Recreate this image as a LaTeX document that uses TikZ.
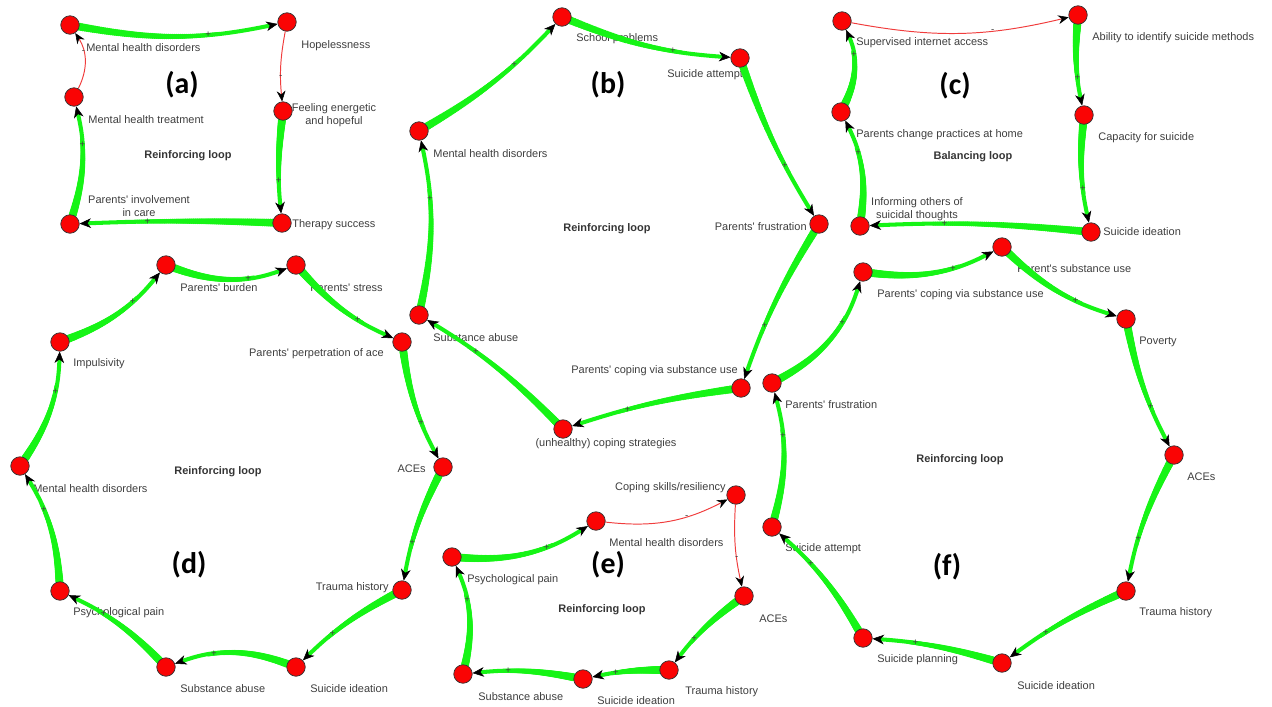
\documentclass[tikz,border=0pt]{standalone}
\usepackage{fontspec}
\setmainfont{Liberation Sans}
\newfontfamily\tagfont{Carlito}
\usepackage{tikz}
\usetikzlibrary{arrows.meta, backgrounds, decorations.markings}
\definecolor{GR}{RGB}{22,244,22}
\definecolor{NR}{RGB}{250,4,4}
\definecolor{RL}{RGB}{240,60,60}
\definecolor{DG}{RGB}{62,62,62}
\newcommand{\apos}{\textquotesingle}

\begin{document}
\begin{tikzpicture}[x=0.02cm, y=-0.02cm,
  vtx/.style={circle, draw=black!80, fill=NR, line width=0.4pt,
              minimum size=0.37cm, inner sep=0pt},
  lbl/.style={font=\fontsize{6.25}{7.2}\selectfont, text=DG,
              inner sep=0pt, anchor=west},
  lblr/.style={lbl, anchor=east},
  lblc/.style={lbl, anchor=center, align=center},
  loopname/.style={font=\fontsize{6.25}{7.2}\selectfont\bfseries, text=DG!85!black},
  tag/.style={font=\tagfont\fontsize{17}{20}\selectfont\bfseries},
  % thick at the cause, thin at the effect
  plink/.style={draw=GR, line width=2.3pt,
                -{Stealth[length=6.5pt, width=5.5pt, inset=2pt, line width=0.3pt, color=black]},
                postaction={decorate, decoration={markings,
                  mark=between positions 0 and 0.7 step 0.01 with
                  {\fill[GR, arrows=-] (0,0) circle
                    [radius={2.3pt-1.15pt*\pgfkeysvalueof{/pgf/decoration/mark info/sequence number}/70}];}}}},
  nlink/.style={draw=RL, line width=0.55pt,
                -{Stealth[length=6pt, width=5pt, inset=2pt, line width=0.3pt, color=black]}},
  sgn/.style={font=\fontsize{5.5}{5.5}\selectfont, text=black!75, inner sep=0pt}
]
\useasboundingbox (0,0) rectangle (1272,707);

% Variables (a)-(f)
\foreach \n/\x/\y in {a1/70/25, a2/287/22, a3/283/111, a4/282/223, a5/70/224, a6/74/97,
  b1/562/17, b2/740/58, b3/819/224, b4/741/388, b5/563/429, b6/419/315, b7/419/131,
  c1/842/21, c2/1078/15, c3/1084/115, c4/1091/232, c5/860/226, c6/841/112,
  d1/166/265, d2/296/265, d3/402/342, d4/443/467, d5/402/590,
  d6/296/667, d7/166/667, d8/60/591, d9/20/466, d10/60/342,
  e1/452/557, e2/596/521, e3/736/495, e4/744/596, e5/669/670, e6/583/679, e7/463/674,
  f1/863/272, f2/1002/247, f3/1126/319, f4/1174/455, f5/1126/591,
  f6/1002/663, f7/863/638, f8/772/527, f9/772/383}
  { \node[vtx] (\n) at (\x,\y) {}; }

\begin{scope}[on background layer]
% Variable names, left aligned
\foreach \n/\x/\y/\t in {
  a1t/86/48/{Mental health disorders}, a2t/301/46/{Hopelessness},
  a4t/292/225/{Therapy success}, a6t/88/120/{Mental health treatment},
  b1t/576/39/{School problems}, b2t/667/75/{Suicide attempt},
  b6t/433/338/{Substance abuse}, b7t/433/154/{Mental health disorders},
  c1t/856/43/{Supervised internet access}, c2t/1092/38/{Ability to identify suicide methods},
  c3t/1098/138/{Capacity for suicide}, c4t/1103/232/{Suicide ideation},
  c6t/856/135/{Parents change practices at home},
  d1t/180/288/{Parents\apos{} burden}, d2t/310/288/{Parents\apos{} stress},
  d6t/310/689/{Suicide ideation}, d7t/180/689/{Substance abuse},
  d8t/73/613/{Psychological pain}, d9t/33/489/{Mental health disorders},
  d10t/73/364/{Impulsivity},
  e1t/467/580/{Psychological pain}, e2t/609/543/{Mental health disorders},
  e4t/759/619/{ACEs}, e5t/685/692/{Trauma history},
  e6t/597/701/{Suicide ideation}, e7t/478/697/{Substance abuse},
  f1t/877/295/{Parents\apos{} coping via substance use}, f2t/1017/269/{Parent\apos{}s substance use},
  f3t/1139/342/{Poverty}, f4t/1187/477/{ACEs}, f5t/1139/613/{Trauma history},
  f6t/1017/686/{Suicide ideation}, f7t/877/660/{Suicide planning},
  f8t/785/549/{Suicide attempt}, f9t/785/405/{Parents\apos{} frustration}}
  { \node[lbl] (\n) at (\x,\y) {\t}; }
% right aligned
\foreach \n/\x/\y/\t in {
  b3t/807/227/{Parents\apos{} frustration}, b4t/738/371/{Parents\apos{} coping via substance use},
  d3t/384/354/{Parents\apos{} perpetration of ace}, d4t/426/469/{ACEs},
  d5t/389/588/{Trauma history}, e3t/726/488/{Coping skills/resiliency}}
  { \node[lblr] (\n) at (\x,\y) {\t}; }
% centred
\node[lblc] (a3t) at (334,115) {Feeling energetic\\and hopeful};
\node[lblc] (a5t) at (139,206) {Parents\apos{} involvement\\in care};
\node[lblc] (b5t) at (606,444) {(unhealthy) coping strategies};
\node[lblc] (c5t) at (917,209) {Informing others of\\suicidal thoughts};

% Panel tags and loop types
\foreach \n/\x/\y/\t in {atag/182/85/a, btag/608/85/b, ctag/955/86/c,
  dtag/189/565/d, etag/608/565/e, ftag/947/567/f}
  { \node[tag] (\n) at (\x,\y) {(\t)}; }
\foreach \n/\x/\y/\t in {aloop/188/156/{Reinforcing loop}, bloop/607/229/{Reinforcing loop},
  cloop/973/157/{Balancing loop}, dloop/218/472/{Reinforcing loop},
  eloop/602/610/{Reinforcing loop}, floop/960/460/{Reinforcing loop}}
  { \node[loopname] (\n) at (\x,\y) {\t}; }

% Positive links
\foreach \s/\t/\b in {a1/a2/11, a3/a4/6, a4/a5/2, a5/a6/15,
  b7/b1/8, b1/b2/9, b2/b3/6, b3/b4/6, b4/b5/5, b5/b6/7, b6/b7/12,
  c2/c3/8, c3/c4/9, c4/c5/4, c5/c6/17, c6/c1/25,
  d10/d1/15, d1/d2/20, d2/d3/12, d3/d4/10, d4/d5/8, d5/d6/8,
  d6/d7/20, d7/d8/10, d8/d9/14, d9/d10/16,
  e1/e2/18, e4/e5/8, e5/e6/6, e6/e7/8, e7/e1/18,
  f9/f1/22, f1/f2/17, f2/f3/13, f3/f4/8, f4/f5/8, f5/f6/6,
  f6/f7/6, f7/f8/9, f8/f9/15}
  { \draw[plink] (\s) to[bend right=\b] node[sgn, pos=0.66] {+} (\t); }
% Negative links
\foreach \s/\t/\b in {a2/a3/8, a6/a1/30, c1/c2/12, e2/e3/17, e3/e4/8}
  { \draw[nlink] (\s) to[bend right=\b] node[sgn, pos=0.66] {-} (\t); }
\end{scope}
\end{tikzpicture}
\end{document}
